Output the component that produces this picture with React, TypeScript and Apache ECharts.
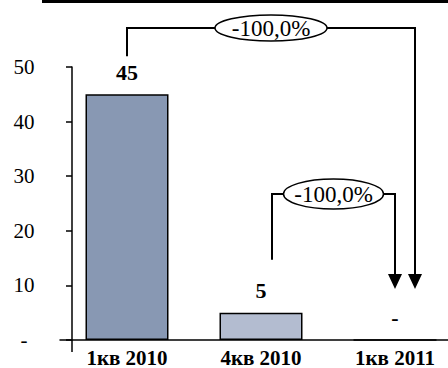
import React, { useEffect, useRef } from "react";
import * as echarts from "echarts";

const categories = ["1кв 2010", "4кв 2010", "1кв 2011"];
const values = [45, 5, 0];
const barColors = ["#8898b3", "#b3bcd0", "#b3bcd0"];
const changeLabels = ["-100,0%", "-100,0%"];
const yMin = 0;
const yMax = 50;
const yInterval = 10;

const FONT = "'Liberation Serif', 'Times New Roman', serif";
const GRID_LEFT = 60;
const AXIS_SHIFT = 12;

export default function App() {
  const ref = useRef<HTMLDivElement>(null);
  useEffect(() => {
    if (!ref.current) return;
    const chart = echarts.init(ref.current, null, { renderer: "svg" });
    chart.setOption({
      animation: false,
      backgroundColor: "#ffffff",
      grid: { left: GRID_LEFT, top: 67, right: 0, bottom: 25, containLabel: false },
      xAxis: {
        type: "category",
        data: categories,
        axisLine: { show: true, lineStyle: { color: "#000", width: 1.5 } },
        axisTick: { show: false },
        axisLabel: {
          color: "#000",
          fontFamily: FONT,
          fontWeight: "bold",
          fontSize: 21,
          margin: 7,
        },
      },
      yAxis: {
        type: "value",
        min: yMin,
        max: yMax,
        interval: yInterval,
        offset: -AXIS_SHIFT,
        axisLine: { show: true, lineStyle: { color: "#000", width: 1.5 } },
        axisTick: { show: true, length: 6, lineStyle: { color: "#000", width: 1.5 } },
        splitLine: { show: false },
        axisLabel: {
          color: "#000",
          fontFamily: FONT,
          fontSize: 21,
          align: "center",
          margin: 48,
          formatter: (v: number) => (v === 0 ? "-" : String(v)),
        },
      },
      series: [
        {
          type: "bar",
          barWidth: 83,
          data: values.map((v, i) => ({
            value: v,
            itemStyle: { color: barColors[i], borderColor: "#000", borderWidth: 1.5 },
          })),
          label: {
            show: true,
            position: "top",
            distance: 11,
            color: "#000",
            fontFamily: FONT,
            fontWeight: "bold",
            fontSize: 22,
            formatter: (p: any) => (p.value === 0 ? "-" : String(p.value)),
          },
        },
      ],
    });

    const px = (i: number, v: number) =>
      chart.convertToPixel({ xAxisIndex: 0, yAxisIndex: 0 }, [categories[i], v]) as number[];
    const c0 = px(0, values[0]);
    const c1 = px(1, values[1]);
    const c2 = px(2, values[2]);
    const base = px(0, 0)[1];
    const axisX = GRID_LEFT + AXIS_SHIFT;

    const line = { stroke: "#000", lineWidth: 2, fill: null };
    const arrowTipY = base - 51;
    const arrowBaseY = arrowTipY - 15;
    const arrow = (x: number) => ({
      type: "polygon",
      z: 10,
      shape: { points: [[x - 7, arrowBaseY], [x + 7, arrowBaseY], [x, arrowTipY]] },
      style: { fill: "#000" },
    });

    const y1 = 28;
    const x1L = c0[0];
    const x1R = c2[0] + 20;
    const e1x = (x1L + x1R) / 2;
    const y2 = 194;
    const x2L = c1[0] + 11;
    const x2R = c2[0];
    const e2x = (x2L + x2R) / 2;

    chart.setOption({
      graphic: [
        { type: "rect", z: 10, shape: { x: 42, y: 0, width: 420, height: 3 }, style: { fill: "#000" } },
        { type: "line", z: 10, shape: { x1: axisX, y1: base, x2: axisX, y2: base + 12 }, style: { stroke: "#000", lineWidth: 1.5 } },
        {
          type: "polyline",
          z: 10,
          shape: { points: [[x1L, c0[1] - 38], [x1L, y1], [x1R, y1], [x1R, arrowBaseY + 2]] },
          style: line,
        },
        arrow(x1R),
        {
          type: "ellipse",
          z: 11,
          shape: { cx: e1x, cy: y1, rx: 56, ry: 13 },
          style: { fill: "#fff", stroke: "#000", lineWidth: 1.5 },
        },
        {
          type: "text",
          z: 12,
          x: e1x,
          y: y1,
          style: {
            text: changeLabels[0],
            fill: "#000",
            font: `23px ${FONT}`,
            textAlign: "center",
            textVerticalAlign: "middle",
          },
        },
        {
          type: "polyline",
          z: 10,
          shape: { points: [[x2L, c1[1] - 53], [x2L, y2], [x2R, y2], [x2R, arrowBaseY + 2]] },
          style: line,
        },
        arrow(x2R),
        {
          type: "ellipse",
          z: 11,
          shape: { cx: e2x, cy: y2, rx: 50, ry: 15 },
          style: { fill: "#fff", stroke: "#000", lineWidth: 1.5 },
        },
        {
          type: "text",
          z: 12,
          x: e2x,
          y: y2,
          style: {
            text: changeLabels[1],
            fill: "#000",
            font: `23px ${FONT}`,
            textAlign: "center",
            textVerticalAlign: "middle",
          },
        },
      ],
    });
    return () => chart.dispose();
  }, []);
  return (
    <div
      ref={ref}
      style={{ position: "fixed", left: 0, top: 0, width: 462, height: 368, background: "#fff" }}
    />
  );
}
